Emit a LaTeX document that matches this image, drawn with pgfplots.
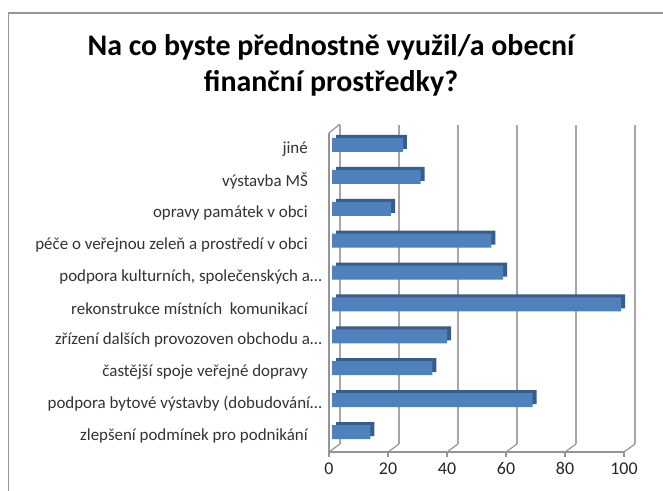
\documentclass[border=0pt]{standalone}
\usepackage{fontspec}
\setmainfont{Carlito}
\usepackage{pgfplots}
\pgfplotsset{compat=1.18}
\definecolor{barblue}{HTML}{4F81BD}
\definecolor{bardark}{HTML}{385D8A}
\definecolor{gridgray}{HTML}{A6A6A6}
\definecolor{axgray}{HTML}{959595}
\begin{document}
\begin{tikzpicture}
\useasboundingbox (0,0) rectangle (663bp,491bp);
\fill[white] (0,0) rectangle (663bp,491bp);
\draw[axgray, line width=1.2bp] (8.5bp,-20bp) -- (8.5bp,478bp) -- (700bp,478bp);
\node[align=center, font=\bfseries\fontsize{30}{36}\selectfont, text=black] at (331bp,426bp)
  {Na co byste přednostně využil/a obecní\\finanční prostředky?};
\begin{axis}[
  at={(329bp,39bp)}, anchor=south west,
  width=295bp, height=319bp, scale only axis,
  xmin=0, xmax=100, ymin=-0.5, ymax=9.5,
  clip=false,
  axis line style={axgray, line width=1.2bp},
  axis x line*=bottom, axis y line*=left,
  xtick={0,20,40,60,80,100},
  tick align=outside,
  x tick style={axgray, line width=1.2bp},
  major tick length=5bp,
  xmajorgrids,
  grid style={gridgray, line width=1.8bp, xshift=11bp, yshift=8bp},
  ytick={0,1,2,3,4,5,6,7,8,9},
  y tick style={draw=none},
  minor ytick={-0.5,0.5,1.5,2.5,3.5,4.5,5.5,6.5,7.5,8.5,9.5},
  minor y tick style={axgray, line width=1.2bp},
  minor tick length=5bp,
  yticklabels={
    {zlepšení podmínek pro podnikání\hspace*{14bp}},
    {podpora bytové výstavby (dobudování…},
    {častější spoje veřejné dopravy\hspace*{14bp}},
    {zřízení dalších provozoven obchodu a…},
    {rekonstrukce místních\ \ komunikací\hspace*{14bp}},
    {podpora kulturních, společenských a…},
    {péče o veřejnou zeleň a prostředí v obci\hspace*{14bp}},
    {opravy památek v obci\hspace*{14bp}},
    {výstavba MŠ\hspace*{14bp}},
    {jiné\hspace*{14bp}}},
  yticklabel style={anchor=east, inner sep=0pt, xshift=-2bp, font=\fontsize{17}{19}\selectfont, text=black!80},
  xticklabel style={font=\fontsize{18}{20}\selectfont, text=black!85, yshift=-2bp},
  /pgf/number format/assume math mode=true,
  xbar, bar width=14bp,
]
\addplot[xbar, bar shift=4bp, fill=bardark, draw=none, xshift=7bp, yshift=3bp]
  coordinates {(13,0) (68,1) (34,2) (39,3) (98,4) (58,5) (54,6) (20,7) (30,8) (24,9)};
\addplot[xbar, bar shift=4bp, fill=barblue, draw=none, xshift=3bp]
  coordinates {(13,0) (68,1) (34,2) (39,3) (98,4) (58,5) (54,6) (20,7) (30,8) (24,9)};
\pgfplotsinvokeforeach{0,20,40,60,80,100}{
  \draw[axgray, line width=1.2bp] (axis cs:#1,-0.5) -- ++(11bp,8bp);
}
\draw[axgray, line width=1.2bp] (axis cs:0,9.5) -- ++(11bp,9bp);
\end{axis}
\end{tikzpicture}
\end{document}
